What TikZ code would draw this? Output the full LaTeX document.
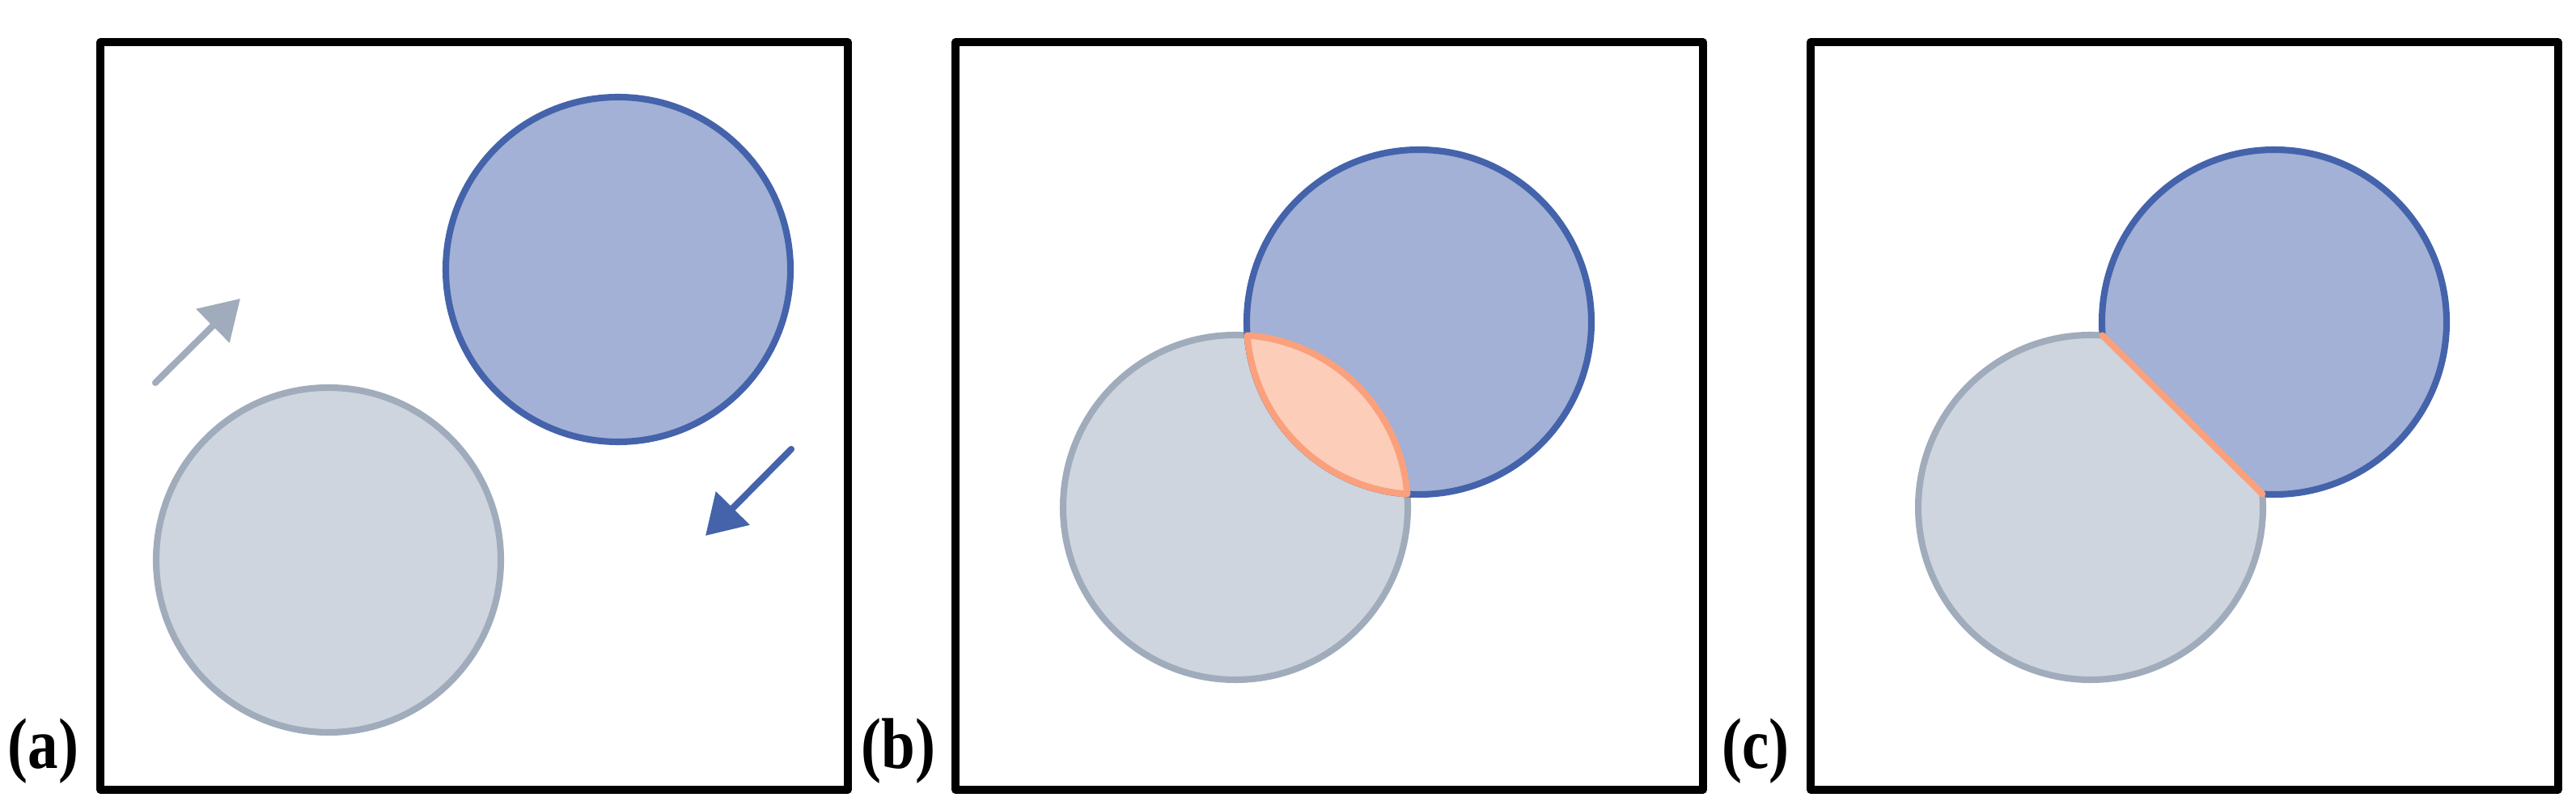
\documentclass[tikz,border=0pt]{standalone}
\usepackage{fontspec}
\newfontfamily\lblfont{Liberation Serif}
\usetikzlibrary{arrows.meta,calc}
\definecolor{bluefill}{HTML}{A2B1D5}
\definecolor{bluedraw}{HTML}{4463AB}
\definecolor{grayfill}{HTML}{CFD5DF}
\definecolor{graydraw}{HTML}{A0ACBB}
\definecolor{orangefill}{HTML}{FCCDB9}
\definecolor{orangedraw}{HTML}{FBA07C}
\tikzset{
  panelbox/.style={draw=black,line width=2.7pt,line join=round},
  bluedisc/.style={fill=bluefill,draw=bluedraw,line width=2.3pt},
  graydisc/.style={fill=grayfill,draw=graydraw,line width=2.3pt},
  lens/.style={fill=orangefill,draw=orangedraw,line width=2.3pt,line join=round},
  chord/.style={draw=orangedraw,line width=2.3pt,line cap=round},
  movearrow/.style={line width=2.3pt,line cap=round,-{Triangle[length=4.8mm,width=5.7mm]}},
  panellabel/.style={font=\lblfont\bfseries\fontsize{22}{26}\selectfont,inner sep=0pt,anchor=base east}
}
\begin{document}
\begin{tikzpicture}
\useasboundingbox (0,0) rectangle (31.84,9.96);
% boxes
\draw[panelbox] (1.24,0.20) rectangle (10.48,9.44);
\draw[panelbox] (11.81,0.20) rectangle (21.05,9.44);
\draw[panelbox] (22.38,0.20) rectangle (31.62,9.44);
% labels
\node[panellabel] (la) at (0.98,0.46) {\scalebox{0.97}[1.15]{(a)}};
\node[panellabel] (lb) at (11.57,0.46) {\scalebox{0.97}[1.15]{(b)}};
\node[panellabel] (lc) at (22.12,0.46) {\scalebox{0.97}[1.15]{(c)}};
% centers
\coordinate (Ga) at (4.06,3.04);
\coordinate (Ba) at (7.64,6.63);
\coordinate (Gb) at (15.27,3.69);
\coordinate (Bb) at (17.54,5.98);
\coordinate (Gc) at (25.84,3.69);
\coordinate (Bc) at (28.11,5.98);
% panel a
\draw[graydisc] (Ga) circle (2.13);
\draw[bluedisc] (Ba) circle (2.13);
\coordinate (gt) at (1.92,5.23);
\coordinate (gh) at (2.97,6.27);
\coordinate (bt) at (9.78,4.41);
\coordinate (bh) at (8.72,3.34);
\draw[movearrow,graydraw] (gt) -- (gh);
\draw[movearrow,bluedraw] (bt) -- (bh);
% panel b
\draw[graydisc] (Gb) circle (2.13);
\draw[bluedisc] (Bb) circle (2.13);
\draw[lens] ($(Gb)+(4.45:2.13)$) arc[start angle=4.45,end angle=86.05,radius=2.13]
  arc[start angle=184.45,end angle=266.05,radius=2.13] -- cycle;
% panel c
\coordinate (P1) at ($(Gc)+(86.05:2.13)$);
\coordinate (P2) at ($(Gc)+(4.45:2.13)$);
\coordinate (E1) at ($(P1)!-1!(P2)$);
\coordinate (E2) at ($(P2)!-1!(P1)$);
\begin{scope}
  \clip (E1) -- (E2) -- ($(E2)+(-3,-3)$) -- ($(E1)+(-3,-3)$) -- cycle;
  \draw[graydisc] (Gc) circle (2.13);
\end{scope}
\begin{scope}
  \clip (E1) -- (E2) -- ($(E2)+(3,3)$) -- ($(E1)+(3,3)$) -- cycle;
  \draw[bluedisc] (Bc) circle (2.13);
\end{scope}
\draw[chord] (P1) -- (P2);
\end{tikzpicture}
\end{document}
